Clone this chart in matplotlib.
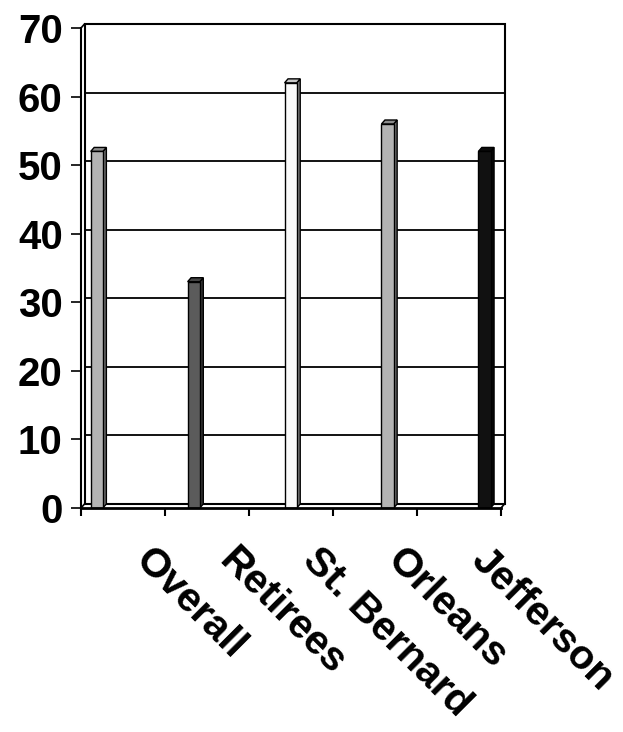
import matplotlib
matplotlib.use("Agg")
import matplotlib.pyplot as plt
from matplotlib.patches import Polygon
from matplotlib.transforms import offset_copy

categories = ["Overall", "Retirees", "St. Bernard", "Orleans", "Jefferson"]
values = [52, 33, 62, 56, 52]
front_colors = ["#b3b3b3", "#5b5b5b", "#fafafa", "#b3b3b3", "#111111"]
side_colors = ["#6e6e6e", "#363636", "#7f7f7f", "#6e6e6e", "#070707"]
top_colors = ["#8c8c8c", "#444444", "#c8c8c8", "#8c8c8c", "#0c0c0c"]
yticks = [0, 10, 20, 30, 40, 50, 60, 70]

W, H = 623, 732
fig = plt.figure(figsize=(W / 100, H / 100), dpi=100)
plt.rcParams['font.family'] = ['Liberation Sans', 'DejaVu Sans']

ax_l, ax_r, ax_t, ax_b = 81, 501, 28, 508
ax = fig.add_axes([ax_l / W, 1 - ax_b / H, (ax_r - ax_l) / W, (ax_b - ax_t) / H])
n = len(categories)
ymax = 70
ax.set_xlim(0, n)
ax.set_ylim(0, ymax)
for s in ax.spines.values():
    s.set_visible(False)

# depth offsets (pixels -> data units)
dpx, dpy = 3.5, 4.0
ddx = dpx / (ax_r - ax_l) * n
ddy = dpy / (ax_b - ax_t) * ymax

# back wall
wall = Polygon([(ddx, ddy), (n + ddx, ddy), (n + ddx, ymax + ddy), (ddx, ymax + ddy)],
               closed=True, facecolor="white", edgecolor="black", lw=1.5,
               clip_on=False, zorder=0.5)
ax.add_patch(wall)
for yv in yticks[1:-1]:
    ax.plot([ddx, n + ddx], [yv + ddy, yv + ddy], color="black", lw=1.3,
            clip_on=False, zorder=0.6, solid_capstyle="butt")
# floor front edge and y axis
ax.plot([0, n], [0, 0], color="black", lw=2.0, clip_on=False, zorder=5)
ax.plot([0, ddx], [0, ddy], color="black", lw=1.2, clip_on=False, zorder=5)
ax.plot([n, n + ddx], [0, ddy], color="black", lw=1.2, clip_on=False, zorder=5)
ax.plot([0, 0], [0, ymax], color="black", lw=1.5, clip_on=False, zorder=5)
ax.plot([0, ddx], [ymax, ymax + ddy], color="black", lw=1.2, clip_on=False, zorder=5)

# bars: series i lives in category i (clustered layout)
gap = 0.75 / 6.5
step = 1 / 6.5
bw = 0.145
for i, (v, fc, sc, tc) in enumerate(zip(values, front_colors, side_colors, top_colors)):
    x0 = i + gap + i * step
    x1 = x0 + bw
    side = Polygon([(x1, 0), (x1, v), (x1 + ddx, v + ddy), (x1 + ddx, ddy)], closed=True,
                   facecolor=sc, edgecolor="black", lw=1.0, zorder=2, clip_on=False)
    top = Polygon([(x0, v), (x1, v), (x1 + ddx, v + ddy), (x0 + ddx, v + ddy)], closed=True,
                  facecolor=tc, edgecolor="black", lw=1.0, zorder=2, clip_on=False)
    ax.add_patch(side)
    ax.add_patch(top)
    ax.bar([x0], [v], width=bw, align="edge", color=fc, edgecolor="black", lw=1.0, zorder=3)

ax.set_yticks(yticks)
ax.set_yticklabels([str(t) for t in yticks], fontsize=29, fontweight="bold")
ax.tick_params(axis="y", direction="out", length=7.2, width=1.2, pad=6)
ax.set_xticks(range(n + 1))
ax.set_xticklabels([])
ax.tick_params(axis="x", direction="out", length=6, width=1.5)

tr = offset_copy(ax.get_xaxis_transform(), fig=fig, x=18, y=-46, units="dots")
for i, c in enumerate(categories):
    ax.text(i + 0.5, 0, c, transform=tr, rotation=-45, rotation_mode="anchor",
            ha="left", va="center", fontsize=29.5, fontweight="bold")

fig.savefig("out.png", dpi=100)
